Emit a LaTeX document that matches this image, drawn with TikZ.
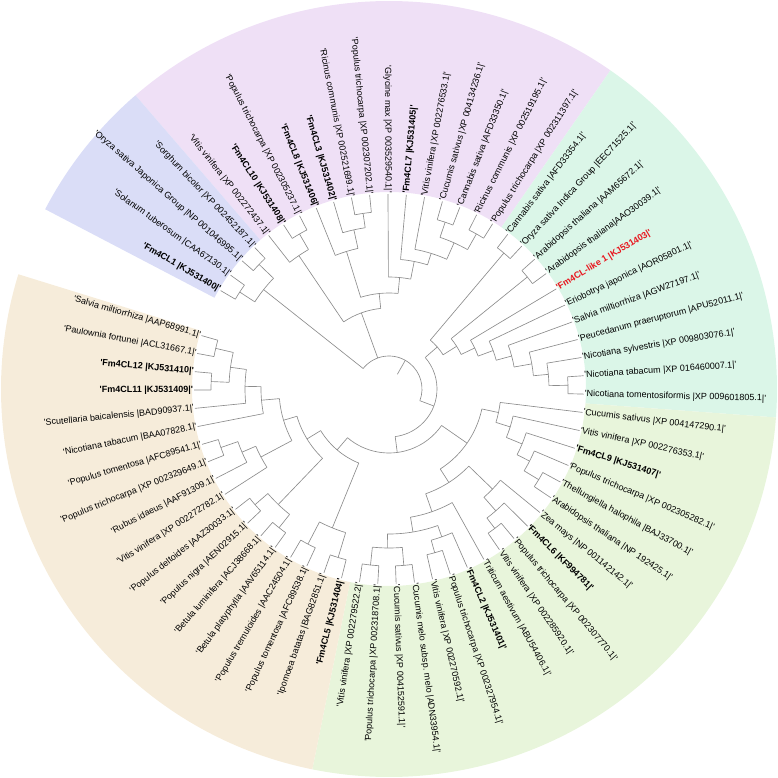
\documentclass[tikz,border=0pt]{standalone}
\usepackage{fontspec}
\newfontfamily\labfont{Liberation Sans}
\definecolor{cpur}{RGB}{239,224,246}
\definecolor{cblu}{RGB}{218,221,247}
\definecolor{ccya}{RGB}{219,246,232}
\definecolor{cgrn}{RGB}{232,245,219}
\definecolor{ctan}{RGB}{246,236,218}
\definecolor{brc}{RGB}{140,140,140}
\definecolor{redl}{RGB}{232,22,30}
\tikzset{
 br/.style={draw=brc, line width=0.65pt},
 lab/.style={font=\labfont\fontsize{9}{10}\selectfont, inner sep=0.8pt},
 bl/.style={font=\labfont\fontsize{9}{10}\selectfont\bfseries},
 rd/.style={bl, text=redl}
}
\newcommand\rad[3]{\draw[br] (#1:#2pt) -- (#1:#3pt);}
\newcommand\arcc[3]{\draw[br] (#2:#1pt) arc[start angle=#2,end angle=#3,radius=#1pt];}
\newcommand\clade[5]{\arcc{#1}{#2}{#4}\rad{#2}{#1}{#3}\rad{#4}{#1}{#5}}
\newcommand\sector[3]{\fill[#1] (#2:197pt) arc[start angle=#2,end angle=#3,radius=197pt] -- (#3:388pt) arc[start angle=#3,end angle=#2,radius=388pt] -- cycle;}
\newcommand\leaf[3]{%
 \pgfmathsetmacro\ang{#1<62 ? 128.1-(#1-1)*5.4 : 128.1+(66-#1)*5.4}%
 \pgfmathsetmacro\cs{cos(\ang)}%
 \ifdim\cs pt<0pt
   \pgfmathsetmacro\rot{\ang+180}%
   \node[lab,#3,anchor=east,rotate=\rot] (l#1) at (\ang:195pt) {#2};
 \else
   \node[lab,#3,anchor=west,rotate=\ang] (l#1) at (\ang:195pt) {#2};
 \fi}
\begin{document}
\begin{tikzpicture}
\useasboundingbox (-389pt,-389pt) rectangle (389pt,389pt);
% background sectors
\sector{cpur}{55.2}{130.8}
\sector{cblu}{130.8}{152.4}
\sector{ccya}{-4.2}{55.2}
\sector{cgrn}{-101.4}{-4.2}
\sector{ctan}{-197.2}{-101.4}
% purple clade
\clade{179}{122.7}{195}{117.3}{195}
\clade{161}{128.1}{195}{120.0}{179}
\clade{177.5}{101.1}{195}{95.7}{195}
\clade{163}{106.5}{195}{98.4}{177.5}
\clade{144}{111.9}{195}{102.45}{163}
\clade{176}{74.1}{195}{68.7}{195}
\clade{178}{63.3}{195}{57.9}{195}
\clade{160}{71.4}{176}{60.6}{178}
\clade{142}{79.5}{195}{66.0}{160}
\clade{130}{84.9}{195}{72.75}{142}
\clade{112}{90.3}{195}{78.825}{130}
\clade{96}{107.175}{144}{84.5625}{112}
\clade{81}{124.05}{161}{95.87}{96}
% blue clade
\clade{180}{138.9}{195}{133.5}{195}
\clade{178}{149.7}{195}{144.3}{195}
\clade{160}{147.0}{178}{136.2}{180}
% cyan clade
\clade{178}{52.5}{195}{47.1}{195}
\clade{178}{41.7}{195}{36.3}{195}
\clade{179}{3.9}{195}{-1.5}{195}
\clade{160}{9.3}{195}{1.2}{179}
\clade{145}{14.7}{195}{5.25}{160}
\clade{127}{20.1}{195}{9.975}{145}
\clade{111}{25.5}{195}{15.04}{127}
\clade{95}{30.9}{195}{20.27}{111}
\clade{80}{39.0}{178}{25.585}{95}
\clade{64}{49.8}{178}{32.29}{80}
% green upper
\clade{175}{-28.5}{195}{-33.9}{195}
\clade{158}{-23.1}{195}{-31.2}{175}
\clade{144}{-17.7}{195}{-27.15}{158}
\clade{127}{-12.3}{195}{-22.425}{144}
\clade{112}{-6.9}{195}{-17.36}{127}
% green lower
\clade{175}{-50.1}{195}{-55.5}{195}
\clade{162}{-44.7}{195}{-52.8}{175}
\clade{144}{-39.3}{195}{-48.75}{162}
\clade{177}{-93.3}{195}{-98.7}{195}
\clade{177}{-82.5}{195}{-87.9}{195}
\clade{159}{-85.2}{177}{-96.0}{177}
\clade{170}{-71.7}{195}{-77.1}{195}
\clade{157}{-66.3}{195}{-74.4}{170}
\clade{145}{-70.35}{157}{-90.6}{159}
\clade{130}{-60.9}{195}{-80.475}{145}
\clade{111}{-44.025}{144}{-70.69}{130}
\clade{95}{-12.13}{112}{-57.36}{111}
% tan clade
\clade{176}{-104.1}{195}{-109.5}{195}
\clade{175}{-114.9}{195}{-120.3}{195}
\clade{150}{-106.8}{176}{-117.6}{175}
\clade{177}{-125.7}{195}{-131.1}{195}
\clade{177}{-136.5}{195}{-141.9}{195}
\clade{160}{-128.4}{177}{-139.2}{177}
\clade{178}{-158.1}{195}{-163.5}{195}
\clade{160}{-160.8}{178}{-152.7}{195}
\clade{145}{-156.75}{160}{-147.3}{195}
\clade{178}{-179.7}{195}{-185.1}{195}
\clade{178}{-190.5}{195}{-195.9}{195}
\clade{160}{-182.4}{178}{-193.2}{178}
\clade{144}{-174.3}{195}{-187.8}{160}
\clade{128}{-168.9}{195}{-181.05}{144}
\clade{110}{-174.975}{128}{-152.03}{145}
\clade{96}{-163.5}{110}{-133.8}{160}
\clade{80}{-148.65}{96}{-112.2}{150}
% root
\clade{64}{-130.43}{80}{-34.745}{95}
\clade{48}{41.05}{64}{-82.59}{64}
\arcc{33}{141.6}{-20.77}
\rad{141.6}{33}{160}
\rad{109.96}{33}{81}
\rad{-20.77}{33}{48}
\rad{60.4}{17}{33}
% labels
\leaf{1}{'Vitis vinifera |XP 002272437.1|'}{}
\leaf{2}{'Fm4CL10 |KJ531408|'}{bl}
\leaf{3}{'Populus trichocarpa |XP 002305237.1|'}{}
\leaf{4}{'Fm4CL8 |KJ531406|'}{bl}
\leaf{5}{'Fm4CL3 |KJ531402|'}{bl}
\leaf{6}{'Ricinus communis |XP 002521699.1|'}{}
\leaf{7}{'Populus trichocarpa |XP 002307202.1|'}{}
\leaf{8}{'Glycine max |XP 003529540.1|'}{}
\leaf{9}{'Fm4CL7 |KJ531405|'}{bl}
\leaf{10}{'Vitis vinifera |XP 002276533.1|'}{}
\leaf{11}{'Cucumis sativus |XP 004134236.1|'}{}
\leaf{12}{'Cannabis sativa |AFD33350.1|'}{}
\leaf{13}{'Ricinus communis |XP 002519195.1|'}{}
\leaf{14}{'Populus trichocarpa |XP 002311397.1|'}{}
\leaf{15}{'Cannabis sativa |AFD33354.1|'}{}
\leaf{16}{'Oryza sativa Indica Group |EEC71525.1|'}{}
\leaf{17}{'Arabidopsis thaliana |AAM65672.1|'}{}
\leaf{18}{'Arabidopsis thaliana|AAO30039.1|'}{}
\leaf{19}{'Fm4CL-like 1 |KJ531403|'}{rd}
\leaf{20}{'Eriobotrya japonica |AOR05801.1|'}{}
\leaf{21}{'Salvia miltiorrhiza |AGW27197.1|'}{}
\leaf{22}{'Peucedanum praeruptorum |APU52011.1|'}{}
\leaf{23}{'Nicotiana sylvestris |XP 009803076.1|'}{}
\leaf{24}{'Nicotiana tabacum |XP 016460007.1|'}{}
\leaf{25}{'Nicotiana tomentosiformis |XP 009601805.1|'}{}
\leaf{26}{'Cucumis sativus |XP 004147290.1|'}{}
\leaf{27}{'Vitis vinifera |XP 002276353.1|'}{}
\leaf{28}{'Fm4CL9 |KJ531407|'}{bl}
\leaf{29}{'Populus trichocarpa |XP 002305282.1|'}{}
\leaf{30}{'Thellungiella halophila |BAJ33700.1|'}{}
\leaf{31}{'Arabidopsis thaliana |NP 192425.1|'}{}
\leaf{32}{'Zea mays |NP 001142142.1|'}{}
\leaf{33}{'Fm4CL6 |KF994781|'}{bl}
\leaf{34}{'Populus trichocarpa |XP 002307770.1|'}{}
\leaf{35}{'Vitis vinifera |XP 002285920.1|'}{}
\leaf{36}{'Triticum aestivum |ABU54406.1|'}{}
\leaf{37}{'Fm4CL2 |KJ531401|'}{bl}
\leaf{38}{'Populus trichocarpa |XP 002327954.1|'}{}
\leaf{39}{'Vitis vinifera |XP 002270592.1|'}{}
\leaf{40}{'Cucumis melo subsp. melo |ADN33954.1|'}{}
\leaf{41}{'Cucumis sativus |XP 004152591.1|'}{}
\leaf{42}{'Populus trichocarpa |XP 002318708.1|'}{}
\leaf{43}{'Vitis vinifera |XP 002279522.2|'}{}
\leaf{44}{'Fm4CL5 |KJ531404|'}{bl}
\leaf{45}{'Ipomoea batatas |BAG82851.1|'}{}
\leaf{46}{'Populus tomentosa |AFC89538.1|'}{}
\leaf{47}{'Populus tremuloides |AAC24504.1|'}{}
\leaf{48}{'Betula platyphylla |AAV65114.1|'}{}
\leaf{49}{'Betula luminifera |ACJ38668.1|'}{}
\leaf{50}{'Populus nigra |AEN02915.1|'}{}
\leaf{51}{'Populus deltoides |AAZ30033.1|'}{}
\leaf{52}{'Vitis vinifera |XP 002272782.1|'}{}
\leaf{53}{'Rubus idaeus |AAF91309.1|'}{}
\leaf{54}{'Populus trichocarpa |XP 002329649.1|'}{}
\leaf{55}{'Populus tomentosa |AFC89541.1|'}{}
\leaf{56}{'Nicotiana tabacum |BAA07828.1|'}{}
\leaf{57}{'Scutellaria baicalensis |BAD90937.1|'}{}
\leaf{58}{'Fm4CL11 |KJ531409|'}{bl}
\leaf{59}{'Fm4CL12 |KJ531410|'}{bl}
\leaf{60}{'Paulownia fortunei |ACL31667.1|'}{}
\leaf{61}{'Salvia miltiorrhiza |AAP68991.1|'}{}
\leaf{62}{'Fm4CL1 |KJ531400|'}{bl}
\leaf{63}{'Solanum tuberosum |CAA67130.1|'}{}
\leaf{64}{'Oryza sativa Japonica Group |NP 001046995.1|'}{}
\leaf{65}{'Sorghum bicolor |XP 002452187.1|'}{}
\end{tikzpicture}
\end{document}
